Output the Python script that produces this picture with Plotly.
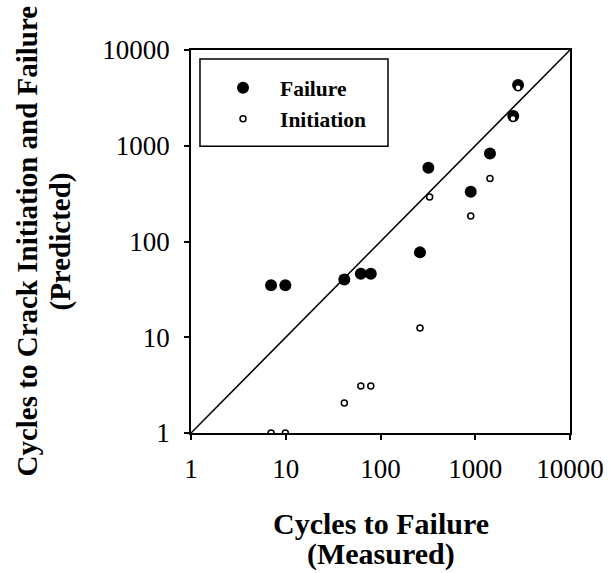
import plotly.graph_objects as go

# Cycles to failure (measured) vs predicted
fail_x = [7, 9.9, 41.5, 62, 79, 261, 320, 896, 1430, 2520, 2830]
fail_y = [35, 35, 40, 46, 46, 77, 588, 330, 830, 2040, 4300]
init_x = [7, 9.9, 41.5, 62, 79, 261, 330, 896, 1430, 2500, 2830]
init_y = [1, 1, 2.06, 3.1, 3.1, 12.5, 292, 185, 455, 1930, 4030]
diag = [1, 10000]
tick_vals = [1, 10, 100, 1000, 10000]
tick_text = ["1", "10", "100", "1000", "10000"]

FONT = "Liberation Serif"

fig = go.Figure()
fig.add_trace(go.Scatter(x=diag, y=diag, mode="lines", line=dict(color="black", width=1.5),
                         showlegend=False, hoverinfo="skip"))
fig.add_trace(go.Scatter(x=fail_x, y=fail_y, mode="markers", name="Failure",
                         marker=dict(color="black", size=12, line=dict(width=0))))
fig.add_trace(go.Scatter(x=init_x, y=init_y, mode="markers", name="Initiation",
                         marker=dict(color="white", size=6, line=dict(color="black", width=1.5))))

axis_common = dict(type="log", range=[0, 4], tickvals=tick_vals, ticktext=tick_text,
                   ticks="outside", ticklen=5, tickwidth=1.5, tickcolor="black",
                   showline=True, linecolor="black", linewidth=1.5, mirror=True,
                   showgrid=False, zeroline=False,
                   tickfont=dict(family=FONT, size=27, color="black"))

fig.update_layout(
    width=616, height=573,
    margin=dict(l=191, r=46, t=50, b=140),
    plot_bgcolor="white", paper_bgcolor="white",
    xaxis=dict(**axis_common, ticklabelstandoff=6),
    yaxis=dict(**axis_common, ticklabelstandoff=9),
    showlegend=True,
    legend=dict(x=0.0396, y=0.955, xanchor="left", yanchor="top",
                bgcolor="rgba(0,0,0,0)", borderwidth=0,
                font=dict(family=FONT, size=21.5, color="black", weight="bold"),
                itemwidth=64, tracegroupgap=0),
)

fig.add_shape(type="rect", xref="paper", yref="paper", x0=0.0237, x1=0.5198, y0=0.749, y1=0.9765,
              line=dict(color="black", width=1.5), fillcolor="rgba(0,0,0,0)")

title_font = dict(family=FONT, size=30, color="black", weight="bold")
ytitle_font = dict(family=FONT, size=29, color="black", weight="bold")
fig.add_annotation(text="Cycles to Failure", xref="paper", yref="paper",
                   x=0.5, y=-0.236, xanchor="center", yanchor="middle", showarrow=False,
                   font=title_font)
fig.add_annotation(text="(Measured)", xref="paper", yref="paper",
                   x=0.5, y=-0.317, xanchor="center", yanchor="middle", showarrow=False,
                   font=title_font)
fig.add_annotation(text="Cycles to Crack Initiation and Failure", xref="paper", yref="paper",
                   x=(26 - 191) / 379, y=0.5, xanchor="center", yanchor="middle", showarrow=False,
                   textangle=-90, font=ytitle_font)
fig.add_annotation(text="(Predicted)", xref="paper", yref="paper",
                   x=(60 - 191) / 379, y=0.5, xanchor="center", yanchor="middle", showarrow=False,
                   textangle=-90, font=ytitle_font)

fig.write_html("out.html")
